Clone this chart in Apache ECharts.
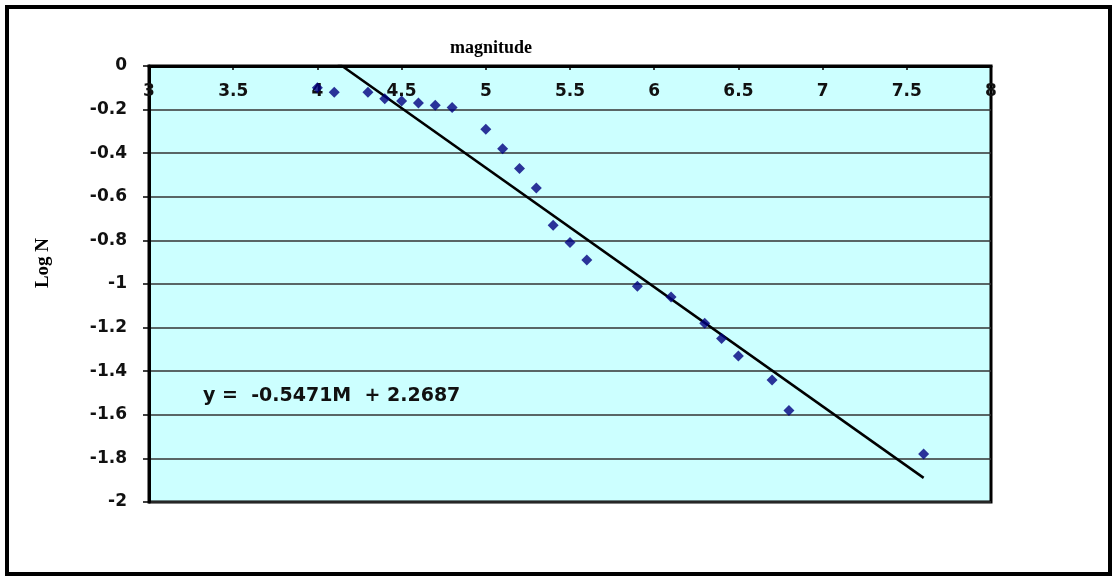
<!DOCTYPE html>
<html>
<head>
<meta charset="utf-8">
<script src="https://cdn.jsdelivr.net/npm/echarts@6/dist/echarts.min.js"></script>
<style>html,body{margin:0;padding:0;background:#fff}#c{width:1116px;height:580px}</style>
</head>
<body>
<div id="c"></div>
<script>
var magnitudes = [4.0, 4.1, 4.3, 4.4, 4.5, 4.6, 4.7, 4.8, 5.0, 5.1, 5.2, 5.3, 5.4, 5.5, 5.6, 5.9, 6.1, 6.3, 6.4, 6.5, 6.7, 6.8, 7.6];
var logN = [-0.10, -0.12, -0.12, -0.15, -0.16, -0.17, -0.18, -0.19, -0.29, -0.38, -0.47, -0.56, -0.73, -0.81, -0.89, -1.01, -1.06, -1.18, -1.25, -1.33, -1.44, -1.58, -1.78];
var trendSlope = -0.5471;
var trendIntercept = 2.2687;
var trendRange = [4.0, 7.6];
var xTicks = [3, 3.5, 4, 4.5, 5, 5.5, 6, 6.5, 7, 7.5, 8];
var yTicks = [0, -0.2, -0.4, -0.6, -0.8, -1, -1.2, -1.4, -1.6, -1.8, -2];

var points = magnitudes.map(function (m, i) { return [m, logN[i]]; });
var trend = trendRange.map(function (m) { return [m, trendSlope * m + trendIntercept]; });

var chart = echarts.init(document.getElementById('c'));
chart.setOption({
  animation: false,
  backgroundColor: '#ffffff',
  title: {
    text: 'magnitude',
    left: 486, top: 34, textAlign: 'center',
    textStyle: { fontFamily: 'Liberation Serif', fontWeight: 'bold', fontSize: 18, color: '#000' }
  },
  grid: {
    left: 149, top: 66, right: 125, bottom: 78,
    show: true, backgroundColor: '#CCFFFF', borderColor: '#000', borderWidth: 3
  },
  xAxis: {
    type: 'value', position: 'top', min: 3, max: 8, interval: 0.5,
    axisLine: { show: true, onZero: false, lineStyle: { color: '#000', width: 3 } },
    axisTick: { show: true, inside: true, length: 4, lineStyle: { color: '#000', width: 1.5 } },
    axisLabel: {
      inside: true, margin: 17, color: '#111',
      fontFamily: 'DejaVu Sans', fontWeight: 'bold', fontSize: 17,
      formatter: function (v) { return xTicks.indexOf(v) >= 0 ? String(v) : ''; }
    },
    splitLine: { show: false }
  },
  yAxis: {
    type: 'value', min: -2, max: 0, interval: 0.2,
    axisLine: { show: true, lineStyle: { color: '#000', width: 3 } },
    axisTick: { show: true, length: 6, lineStyle: { color: '#000', width: 1.5 } },
    axisLabel: {
      margin: 22, color: '#111',
      fontFamily: 'DejaVu Sans', fontWeight: 'bold', fontSize: 17,
      formatter: function (v) {
        var r = Math.round(v * 10) / 10;
        return yTicks.indexOf(r) >= 0 ? String(r) : '';
      }
    },
    splitLine: { show: true, lineStyle: { color: '#333', width: 1.5 } }
  },
  graphic: [
    { type: 'rect', shape: { x: 7, y: 7, width: 1103, height: 567 }, style: { fill: 'none', stroke: '#000', lineWidth: 4 }, z: 100 },
    { type: 'text', x: 203, y: 396, style: { text: 'y =  -0.5471M  + 2.2687', fontFamily: 'DejaVu Sans', fontWeight: 'bold', fontSize: 19, fill: '#111', verticalAlign: 'middle' }, z: 100 },
    { type: 'text', x: 43, y: 263, rotation: Math.PI / 2, style: { text: 'Log N', fontFamily: 'Liberation Serif', fontWeight: 'bold', fontSize: 19, fill: '#000', align: 'center', verticalAlign: 'middle' }, z: 100 }
  ],
  series: [
    {
      type: 'line', data: trend, symbol: 'none', clip: true,
      lineStyle: { color: '#000', width: 2.5 }, z: 3
    },
    {
      type: 'scatter', data: points, symbol: 'diamond', symbolSize: 11,
      itemStyle: { color: '#000080' }, z: 4
    }
  ]
});
</script>
</body>
</html>
